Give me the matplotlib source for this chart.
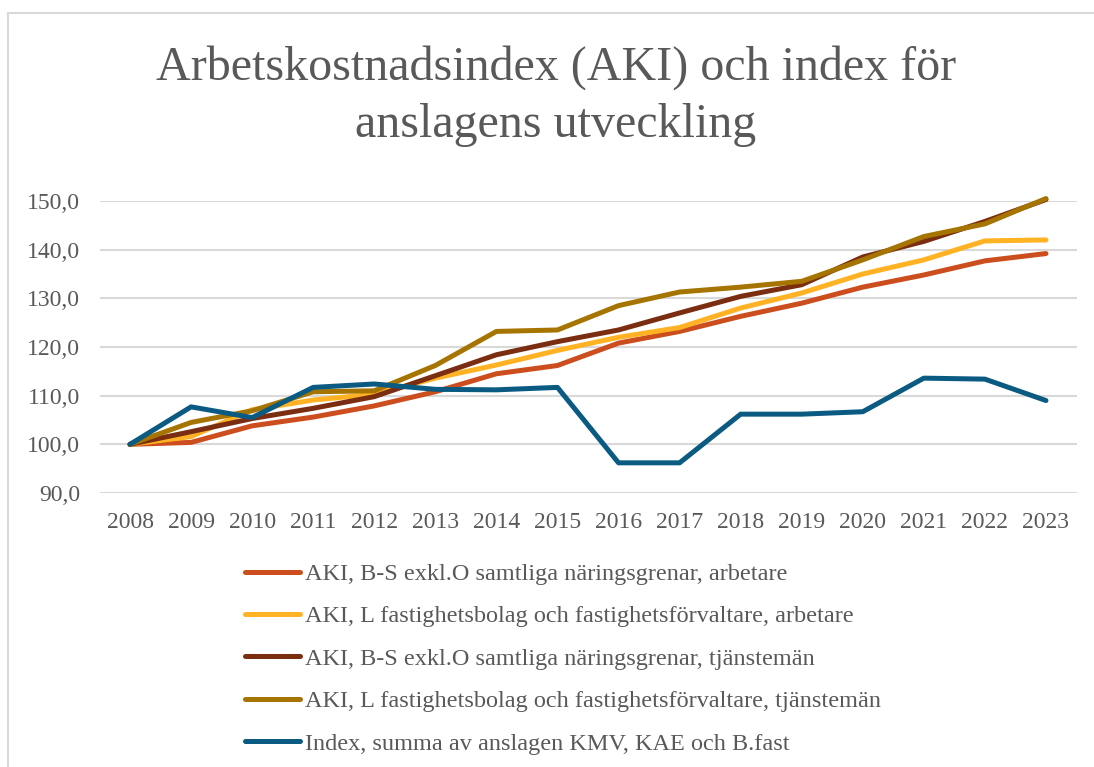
import numpy as np
import matplotlib
matplotlib.use("Agg")
import matplotlib.pyplot as plt
from matplotlib.lines import Line2D

years = [str(y) for y in range(2008, 2024)]

aki_bs_arb = [100.0, 100.4, 103.8, 105.6, 107.9, 110.8, 114.5, 116.2,
              120.8, 123.2, 126.3, 129.0, 132.3, 134.8, 137.7, 139.2]
aki_l_arb = [100.0, 101.6, 107.1, 109.1, 110.3, 113.6, 116.3, 119.3,
             122.0, 124.0, 128.0, 131.1, 135.0, 137.9, 141.8, 142.0]
aki_bs_tj = [100.0, 102.6, 105.3, 107.4, 109.8, 114.1, 118.4, 121.1,
             123.5, 127.0, 130.4, 132.8, 138.5, 141.7, 145.8, 150.3]
aki_l_tj = [100.0, 104.5, 106.9, 110.8, 111.0, 116.2, 123.2, 123.5,
            128.5, 131.3, 132.3, 133.5, 137.9, 142.7, 145.3, 150.5]
index_anslag = [100.0, 107.7, 105.5, 111.7, 112.4, 111.3, 111.2, 111.7,
                96.2, 96.2, 106.2, 106.2, 106.7, 113.6, 113.4, 109.0]

labels = [
    "AKI, B-S exkl.O samtliga näringsgrenar, arbetare",
    "AKI, L fastighetsbolag och fastighetsförvaltare, arbetare",
    "AKI, B-S exkl.O samtliga näringsgrenar, tjänstemän",
    "AKI, L fastighetsbolag och fastighetsförvaltare, tjänstemän",
    "Index, summa av anslagen KMV, KAE och B.fast",
]
colors = ["#CC4E1E", "#FFB224", "#7A2D10", "#A67400", "#0A5A82"]
series = [aki_bs_arb, aki_l_arb, aki_bs_tj, aki_l_tj, index_anslag]

plt.rcParams["font.family"] = ["Liberation Serif", "DejaVu Serif"]
txt = "#595959"

W, H = 1094, 767
fig = plt.figure(figsize=(W / 100, H / 100), dpi=100)
ax = fig.add_axes([99.5 / W, 1 - 493 / H, (1076.5 - 99.5) / W, (493 - 201) / H])

x = np.arange(len(years))
for vals, c, lab in zip(series, colors, labels):
    ax.plot(x, vals, color=c, lw=3.6, label=lab, solid_capstyle="round",
            solid_joinstyle="round", clip_on=False, zorder=3)

ax.set_xlim(-0.5, len(years) - 0.5)
ax.set_ylim(90, 150)
ax.set_yticks(np.arange(90, 151, 10))
ax.set_yticklabels([f"{v:.1f}".replace(".", ",") for v in range(90, 151, 10)])
ax.set_xticks(x)
ax.set_xticklabels(years)
ax.tick_params(axis="both", length=0, labelsize=17, colors=txt)
ax.tick_params(axis="y", pad=14)
ax.tick_params(axis="x", pad=14)
for s in ax.spines.values():
    s.set_visible(False)
ax.grid(axis="y", color="#D9D9D9", lw=1.5, zorder=0)
ax.set_axisbelow(True)

fig.text(556 / W, 1 - 96 / H, "Arbetskostnadsindex (AKI) och index för\nanslagens utveckling",
         ha="center", va="center", fontsize=34.6, color=txt, linespacing=1.38)

handles = [Line2D([], [], color=c, lw=3.6, solid_capstyle="round") for c in colors]
fig.legend(handles, labels, loc="upper left", bbox_to_anchor=(245 / W, 1 - 563 / H),
           frameon=False, fontsize=17.5, labelcolor=txt, handlelength=2.25,
           handletextpad=0.2, labelspacing=0.84, borderpad=0, borderaxespad=0)

# chart area border (top and left edges visible)
fig.add_artist(Line2D([8 / W, 1.01], [1 - 13 / H, 1 - 13 / H], color="#D9D9D9", lw=1.5))
fig.add_artist(Line2D([8 / W, 8 / W], [-0.01, 1 - 13 / H], color="#D9D9D9", lw=1.5))

fig.savefig("out.png", dpi=100)
